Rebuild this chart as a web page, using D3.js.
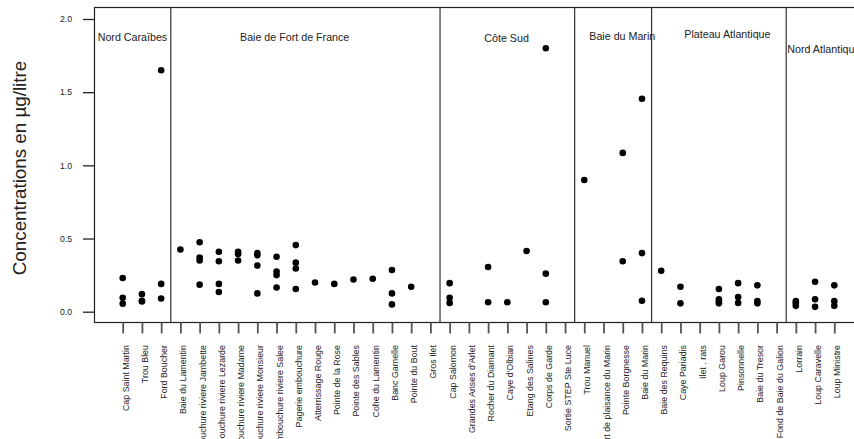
<!DOCTYPE html>
<html>
<head>
<meta charset="utf-8">
<script src="https://cdn.jsdelivr.net/npm/d3@7"></script>
<style>
  html, body { margin: 0; padding: 0; background: #fff; }
  svg { display: block; font-family: "Liberation Sans", Arial, sans-serif; }
</style>
</head>
<body>
<svg id="chart" width="854" height="439"></svg>
<script>
// Sampling sites, grouped by coastal region (in plotting order)
const regionNames = ["Nord Caraïbes", "Baie de Fort de France", "Côte Sud", "Baie du Marin", "Plateau Atlantique", "Nord Atlantique"];
const regionSizes = [3, 14, 7, 4, 7, 3];

const sites = [
  "Cap Saint Martin", "Trou Bleu", "Ford Boucher",
  "Baie du Lamentin", "Embouchure riviere Jambette", "Embouchure riviere Lezarde",
  "Embouchure riviere Madame", "Embouchure riviere Monsieur", "Embouchure riviere Salee",
  "Pagerie embouchure", "Atterrissage Rouge", "Pointe de la Rose", "Pointe des Sables",
  "Cohe du Lamentin", "Banc Gamelle", "Pointe du Bout", "Gros Ilet",
  "Cap Salomon", "Grandes Anses d'Arlet", "Rocher du Diamant", "Caye d'Olbian",
  "Etang des Salines", "Corps de Garde", "Sortie STEP Ste Luce",
  "Trou Manuel", "Port de plaisance du Marin", "Pointe Borgnesse", "Baie du Marin",
  "Baie des Requins", "Caye Pariadis", "Ilet . rats", "Loup Garou", "Pinsonnelle",
  "Baie du Tresor", "Fond de Baie du Galion",
  "Lorrain", "Loup Caravelle", "Loup Ministre"
];

// Measured concentrations (µg/litre) for each site, same order as `sites`
const concentrations = [
  [0.23, 0.095, 0.055],
  [0.12, 0.075, 0.07],
  [1.65, 0.19, 0.09],
  [0.425],
  [0.475, 0.37, 0.35, 0.185],
  [0.41, 0.345, 0.19, 0.135],
  [0.41, 0.395, 0.35],
  [0.40, 0.385, 0.315, 0.125],
  [0.375, 0.275, 0.25, 0.165],
  [0.455, 0.335, 0.295, 0.155],
  [0.20],
  [0.19],
  [0.22],
  [0.225],
  [0.285, 0.125, 0.05],
  [0.17],
  [],
  [0.195, 0.095, 0.06],
  [],
  [0.305, 0.065],
  [0.065],
  [0.415],
  [1.80, 0.26, 0.065],
  [],
  [0.90],
  [],
  [1.085, 0.345],
  [1.455, 0.40, 0.075],
  [0.28],
  [0.17, 0.057],
  [],
  [0.155, 0.085, 0.07, 0.057],
  [0.195, 0.10, 0.06],
  [0.18, 0.072, 0.057],
  [],
  [0.072, 0.057, 0.04],
  [0.205, 0.085, 0.033],
  [0.18, 0.072, 0.04]
];

const yTicks = [0.0, 0.5, 1.0, 1.5, 2.0];
const yTitle = "Concentrations en µg/litre";

const svg = d3.select("#chart");

const x = d3.scalePoint().domain(sites).range([122.7, 834.3]);
const y = d3.scaleLinear().domain([0, 2]).range([311.7, 19]);

const box = { left: 94.5, right: 863, top: 7.5, bottom: 322.5 };

// Plot frame
svg.append("rect")
  .attr("x", box.left).attr("y", box.top)
  .attr("width", box.right - box.left).attr("height", box.bottom - box.top)
  .attr("fill", "none").attr("stroke", "#222").attr("stroke-width", 1.2);

// Region separators between the last site of one region and the first of the next
let start = 0;
const regionStarts = [];
regionSizes.forEach(n => { regionStarts.push(start); start += n; });
regionStarts.slice(1).forEach(i => {
  const xm = (x(sites[i - 1]) + x(sites[i])) / 2;
  svg.append("line")
    .attr("x1", xm).attr("x2", xm)
    .attr("y1", box.top).attr("y2", box.bottom)
    .attr("stroke", "#333").attr("stroke-width", 1.2);
});

// Region titles
const titlePos = [
  [97.7, 41], [240, 41], [484.3, 41.5], [589.3, 40], [684.3, 37.7], [787.3, 53.3]
];
svg.append("g").selectAll("text")
  .data(regionNames)
  .join("text")
  .attr("x", (d, i) => titlePos[i][0])
  .attr("y", (d, i) => titlePos[i][1])
  .attr("font-size", 10.7)
  .attr("fill", "#222")
  .text(d => d);

// Y axis: ticks reaching the frame, labels on the left
const yAxis = d3.axisLeft(y).tickValues(yTicks).tickFormat(d3.format(".1f")).tickSize(11.5).tickPadding(11);
const gy = svg.append("g").attr("transform", `translate(${box.left},0)`).call(yAxis);
gy.select(".domain").remove();
gy.selectAll(".tick line").attr("stroke", "#222").attr("stroke-width", 1.3);
gy.selectAll(".tick text").attr("font-size", 8.7).attr("fill", "#222")
  .attr("font-family", "Liberation Sans, Arial, sans-serif");

// X axis: ticks below the frame, vertical site labels
const xAxis = d3.axisBottom(x).tickSize(11).tickFormat("");
const gx = svg.append("g").attr("transform", `translate(0,${box.bottom})`).call(xAxis);
gx.select(".domain").remove();
gx.selectAll(".tick line").attr("stroke", "#555").attr("stroke-width", 1.8);

svg.append("g").selectAll("text")
  .data(sites)
  .join("text")
  .attr("transform", d => `translate(${x(d) + 6},345) rotate(-90)`)
  .attr("text-anchor", "end")
  .attr("font-size", 8.9)
  .attr("fill", "#222")
  .text(d => d);

// Y axis title
svg.append("text")
  .attr("transform", "translate(26,168) rotate(-90)")
  .attr("text-anchor", "middle")
  .attr("font-size", 18.8)
  .attr("fill", "#222")
  .text(yTitle);

// Concentration points
const points = sites.flatMap((s, i) => concentrations[i].map(v => ({ site: s, value: v })));
svg.append("g").selectAll("circle")
  .data(points)
  .join("circle")
  .attr("cx", d => x(d.site))
  .attr("cy", d => y(d.value))
  .attr("r", 3.3)
  .attr("fill", "#000");
</script>
</body>
</html>
